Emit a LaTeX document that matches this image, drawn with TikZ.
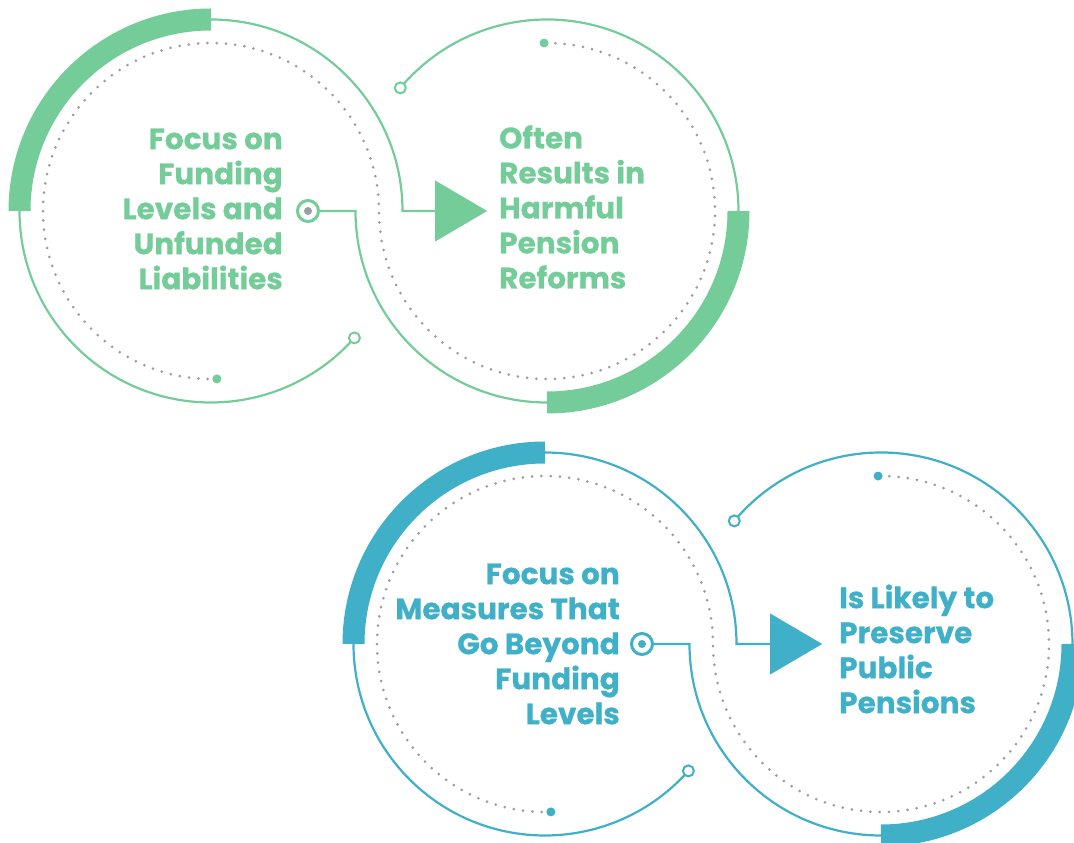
\documentclass[tikz,border=0pt]{standalone}
\usepackage{fontspec}
\setmainfont{Poppins}[BoldFeatures={FakeBold=0.7}]
\usetikzlibrary{shapes.geometric}
\usetikzlibrary{calc}
\usetikzlibrary{backgrounds}
\definecolor{pgreen}{HTML}{74CC98}
\definecolor{pblue}{HTML}{40B0C8}
\definecolor{dotgray}{HTML}{9C9EA5}

\begin{document}
\begin{tikzpicture}[x=1pt, y=1pt,
            thinring/.style={draw=ring, line width=2.2pt},
            thickring/.style={draw=ring, line width=22pt},
            dotring/.style={draw=dotgray, line width=3pt, line cap=round, dash pattern=on 0pt off 9.3pt},
            endring/.style={circle, draw=ring, line width=2pt, fill=white, minimum size=11pt, inner sep=0pt},
            enddot/.style={circle, fill=ring, minimum size=9pt, inner sep=0pt},
            marker/.style={circle, draw=ring, line width=3pt, fill=white, minimum size=21pt, inner sep=0pt,
                path picture={\fill[#1] (path picture bounding box.center) circle (4pt);}},
            pointer/.style={isosceles triangle, isosceles triangle stretches, fill=ring, minimum height=52pt, minimum width=61pt, inner sep=0pt, anchor=west},
            lefttext/.style={text=ring, inner sep=0pt, align=right, anchor=east, font=\fontsize{29.5}{35}\selectfont\bfseries},
            righttext/.style={text=ring, inner sep=0pt, align=left, anchor=west, font=\fontsize{29.5}{35}\selectfont\bfseries},
            ]
            \useasboundingbox (0,0) rectangle (1074,843);

            % green pair
            \colorlet{ring}{pgreen}
            \begin{scope}[shift={(211,632)}]
                \coordinate (gtop) at (90:191.5pt);
                \coordinate (gleft) at (180:191.5pt);
                \coordinate (gright) at ($(336,0)+(0:191.5pt)$);
                \coordinate (gbottom) at ($(336,0)+(-90:191.5pt)$);
                \node[pointer] (garrow) at (224,0) {};
                \node[marker=dotgray] (gmark) at (97,0) {};
                \node[endring] (gendL) at (-41.5:191.5pt) {};
                \node[endring] (gendR) at ($(336,0)+(140:191.5pt)$) {};
                \node[enddot] (gdotL) at (-88:168pt) {};
                \node[enddot] (gdotR) at ($(336,0)+(91:168pt)$) {};
                \node[lefttext] (gcause) at (72,2) {Focus on\\Funding\\Levels and\\Unfunded\\Liabilities};
                \node[righttext] (geffect) at (288,4) {Often\\Results in\\Harmful\\Pension\\Reforms};
                \begin{scope}[on background layer]
                    \draw[thickring] (gtop) arc[start angle=90, end angle=180, radius=191.5pt];
                    \draw[thickring] (gright) arc[start angle=0, end angle=-90, radius=191.5pt];
                    \draw[thinring] (gtop) arc[start angle=90, end angle=0, radius=191.5pt] -- (garrow.west);
                    \draw[thinring] (gleft) arc[start angle=180, end angle=318.5, radius=191.5pt];
                    \draw[thinring] (gendR.center) arc[start angle=140, end angle=0, radius=191.5pt];
                    \draw[thinring] (gbottom) arc[start angle=-90, end angle=-180, radius=191.5pt] -- (gmark);
                    \draw[dotring] (gdotL.center) arc[start angle=-88, end angle=-360, radius=168pt]
                        arc[start angle=180, end angle=451, radius=168pt];
                \end{scope}
            \end{scope}

            % blue pair
            \colorlet{ring}{pblue}
            \begin{scope}[shift={(545,199)}]
                \coordinate (btop) at (90:191.5pt);
                \coordinate (bleft) at (180:191.5pt);
                \coordinate (bright) at ($(336,0)+(0:191.5pt)$);
                \coordinate (bbottom) at ($(336,0)+(-90:191.5pt)$);
                \node[pointer] (barrow) at (225,0) {};
                \node[marker=pblue] (bmark) at (97,0) {};
                \node[endring] (bendL) at (-41.5:191.5pt) {};
                \node[endring] (bendR) at ($(336,0)+(140:191.5pt)$) {};
                \node[enddot] (bdotL) at (-88:168pt) {};
                \node[enddot] (bdotR) at ($(336,0)+(91:168pt)$) {};
                \node[lefttext] (bcause) at (75,0) {Focus on\\Measures That\\Go Beyond\\Funding\\Levels};
                \node[righttext] (beffect) at (294,-5) {Is Likely to\\Preserve\\Public\\Pensions};
                \begin{scope}[on background layer]
                    \draw[thickring] (btop) arc[start angle=90, end angle=180, radius=191.5pt];
                    \draw[thickring] (bright) arc[start angle=0, end angle=-90, radius=191.5pt];
                    \draw[thinring] (btop) arc[start angle=90, end angle=0, radius=191.5pt] -- (barrow.west);
                    \draw[thinring] (bleft) arc[start angle=180, end angle=318.5, radius=191.5pt];
                    \draw[thinring] (bendR.center) arc[start angle=140, end angle=0, radius=191.5pt];
                    \draw[thinring] (bbottom) arc[start angle=-90, end angle=-180, radius=191.5pt] -- (bmark);
                    \draw[dotring] (bdotL.center) arc[start angle=-88, end angle=-360, radius=168pt]
                        arc[start angle=180, end angle=451, radius=168pt];
                \end{scope}
            \end{scope}
        \end{tikzpicture}
\end{document}
